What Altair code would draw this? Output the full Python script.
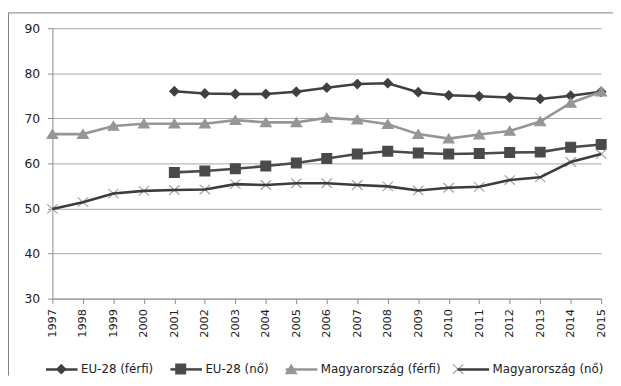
import altair as alt
import pandas as pd

years = [1997, 1998, 1999, 2000, 2001, 2002, 2003, 2004, 2005, 2006,
         2007, 2008, 2009, 2010, 2011, 2012, 2013, 2014, 2015]
series = ["EU-28 (férfi)", "EU-28 (nő)", "Magyarország (férfi)", "Magyarország (nő)"]

eu_years = [2001, 2002, 2003, 2004, 2005, 2006, 2007, 2008, 2009, 2010,
            2011, 2012, 2013, 2014, 2015]
eu_ferfi = [76.0, 75.5, 75.4, 75.4, 75.9, 76.8, 77.6, 77.8, 75.8, 75.1,
            74.9, 74.6, 74.3, 75.0, 75.9]
eu_no = [58.0, 58.3, 58.8, 59.4, 60.1, 61.1, 62.1, 62.7, 62.3, 62.1,
         62.2, 62.4, 62.5, 63.6, 64.2]
hu_ferfi = [66.5, 66.5, 68.3, 68.8, 68.8, 68.8, 69.6, 69.1, 69.1, 70.1,
            69.7, 68.7, 66.5, 65.5, 66.4, 67.2, 69.3, 73.4, 75.9]
hu_no = [49.9, 51.4, 53.3, 53.9, 54.1, 54.2, 55.4, 55.2, 55.6, 55.6,
         55.2, 54.9, 54.0, 54.6, 54.8, 56.3, 56.9, 60.3, 62.1]
y_ticks = [30, 40, 50, 60, 70, 80, 90]

rows = []
for name, xs, vs in [(series[0], eu_years, eu_ferfi), (series[1], eu_years, eu_no),
                     (series[2], years, hu_ferfi), (series[3], years, hu_no)]:
    for x, v in zip(xs, vs):
        rows.append({"year": x, "value": v, "series": name, "series2": name})
df = pd.DataFrame(rows)

FONT = "DejaVu Sans"
line_colors = ["#404040", "#4a4a4a", "#969696", "#3c3c3c"]
fill_colors = ["#404040", "#4a4a4a", "#969696", "transparent"]
stroke_colors = ["#404040", "#4a4a4a", "#969696", "#a3a3a3"]
marker_paths = [
    "M0,-0.29L0.29,0L0,0.29L-0.29,0Z",
    "M-0.31,-0.31H0.31V0.31H-0.31Z",
    "M0,-0.29L0.34,0.27H-0.34Z",
    "M-0.33,-0.3L0.33,0.3M-0.33,0.3L0.33,-0.3",
]

x_enc = alt.X("year:Q", scale=alt.Scale(domain=[1997, 2015], nice=False, zero=False),
              axis=alt.Axis(values=years, format="d", labelAngle=-90, title=None,
                            grid=False, tickSize=5, labelPadding=5, labelFont=FONT,
                            labelFontSize=11.5, labelColor="#222", domainColor="#8c8c8c",
                            tickColor="#8c8c8c"))
y_enc = alt.Y("value:Q", scale=alt.Scale(domain=[30, 90], nice=False, zero=False),
              axis=alt.Axis(values=y_ticks, title=None, grid=True, gridColor="#a8a8a8",
                            tickSize=5, labelPadding=8, labelFont=FONT, labelFontSize=12.5,
                            labelColor="#222", domainColor="#8c8c8c", tickColor="#8c8c8c"))

base = alt.Chart(df)

legend_common = dict(orient="none", legendX=-8, legendY=328, direction="horizontal",
                     columns=4, symbolSize=1024, labelOffset=2, columnPadding=11,
                     labelFont=FONT, labelFontSize=12, labelLimit=0, title=None,
                     padding=0, labelColor="#222")

lines = base.mark_line(strokeWidth=2.6).encode(
    x=x_enc, y=y_enc,
    color=alt.Color("series:N", scale=alt.Scale(domain=series, range=line_colors),
                    legend=alt.Legend(symbolType="M-1,0H1", symbolStrokeWidth=2.6,
                                      **legend_common)),
)

points = base.mark_point(size=1024, strokeWidth=1.2, opacity=1).encode(
    x=x_enc, y=y_enc,
    shape=alt.Shape("series2:N", scale=alt.Scale(domain=series, range=marker_paths),
                    legend=alt.Legend(labelOpacity=0, symbolStrokeWidth=1.2,
                                      **legend_common)),
    fill=alt.Fill("series2:N", scale=alt.Scale(domain=series, range=fill_colors),
                  legend=alt.Legend(labelOpacity=0, symbolStrokeWidth=1.2,
                                    **legend_common)),
    stroke=alt.Stroke("series2:N", scale=alt.Scale(domain=series, range=stroke_colors),
                      legend=alt.Legend(labelOpacity=0, symbolStrokeWidth=1.2,
                                        **legend_common)),
)

frame = alt.Chart(pd.DataFrame({"k": [0]}))
top_border = frame.mark_rule(color="#7f7f7f", strokeWidth=1).encode(
    x=alt.value(-44.5), x2=alt.value(570), y=alt.value(-15.5))
left_border = frame.mark_rule(color="#7f7f7f", strokeWidth=1).encode(
    x=alt.value(-44.5), y=alt.value(-15.5), y2=alt.value(352))

chart = alt.layer(top_border, left_border, points, lines).properties(
    width=556, height=274,
    autosize=alt.AutoSizeParams(type="none"),
    padding={"left": 45, "top": 18, "right": 12, "bottom": 78},
).resolve_scale(color="independent").configure_view(strokeWidth=0)

chart.save("out.html", embed_options={"renderer": "svg", "actions": False})
